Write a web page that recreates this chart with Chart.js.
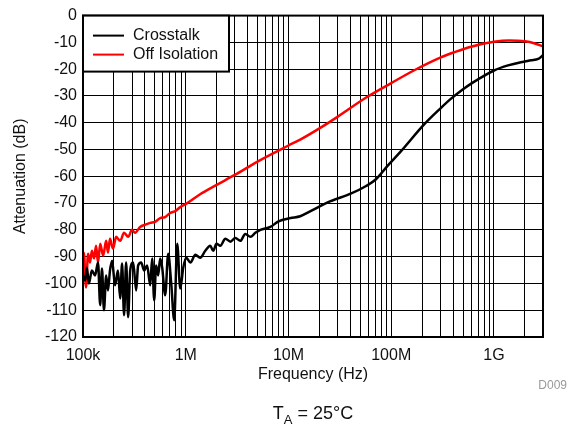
<!DOCTYPE html>
<html>
<head>
<meta charset="utf-8">
<script src="https://cdn.jsdelivr.net/npm/chart.js@4"></script>
<style>
  body { margin: 0; background: #fff; }
  canvas { display: block; }
</style>
</head>
<body>
<canvas id="chart" width="576" height="428"></canvas>
<script>
// Crosstalk (black)
const crosstalkFreq = [
  1.0e5, 1.05e5, 1.09e5, 1.14e5, 1.22e5, 1.31e5, 1.40e5, 1.47e5, 1.53e5, 1.60e5,
  1.68e5, 1.75e5, 1.83e5, 1.92e5, 2.05e5, 2.19e5, 2.30e5, 2.40e5, 2.51e5, 2.63e5,
  2.75e5, 2.88e5, 3.08e5, 3.29e5, 3.44e5, 3.68e5, 3.94e5, 4.21e5, 4.51e5, 4.71e5,
  4.93e5, 5.15e5, 5.39e5, 5.64e5, 5.90e5, 6.31e5, 6.75e5, 7.22e5, 7.72e5, 8.26e5,
  8.84e5, 9.46e5, 1.01e6, 1.11e6, 1.24e6, 1.38e6, 1.55e6, 1.73e6, 1.85e6, 1.99e6,
  2.17e6, 2.43e6, 2.72e6, 3.04e6, 3.40e6, 3.80e6, 4.26e6, 4.76e6, 5.33e6, 6.67e6,
  8.0e6, 1.05e7, 1.3e7, 1.64e7, 2.57e7, 4.03e7, 5.64e7, 7.06e7, 9.25e7, 1.24e8,
  2.08e8, 3.0e8, 3.8e8, 5.0e8, 6.0e8, 7.0e8, 1.0e9, 1.37e9, 1.83e9, 2.3e9,
  2.69e9, 3.0e9
];
const crosstalkDb = [
  -97, -98.9, -94.1, -100, -95.2, -97, -92.2, -108.1, -94.4, -110,
  -97, -102.6, -95.2, -91.5, -100.7, -95.2, -105.6, -92.6, -111.9, -92.2,
  -112.6, -95.2, -92.2, -102.6, -93.3, -92.2, -95.2, -93.3, -100.7, -90.7,
  -106.3, -93.3, -97, -90.7, -94.1, -104.4, -88.9, -100, -113.7, -85.2,
  -101.9, -94.1, -90.4, -92.2, -89.3, -90.4, -87.8, -85.9, -87.8, -85.2,
  -85.9, -83.3, -84.4, -83, -84.1, -81.5, -82.6, -81.1, -80, -78.9,
  -76.8, -75.6, -74.9, -73, -69.3, -66.5, -63.7, -61.2, -56, -50.7,
  -40.7, -34.7, -31.1, -27.5, -25.4, -23.8, -20.5, -18.6, -17.4, -16.7,
  -16.2, -14.8
];

// Off Isolation (red)
const isolationFreq = [
  1.0e5, 1.02e5, 1.07e5, 1.12e5, 1.17e5, 1.22e5, 1.28e5, 1.34e5, 1.40e5, 1.47e5,
  1.57e5, 1.68e5, 1.75e5, 1.83e5, 1.96e5, 2.10e5, 2.30e5, 2.51e5, 2.75e5, 3.0e5,
  3.21e5, 3.6e5, 4.02e5, 4.51e5, 5.04e5, 5.64e5, 6.31e5, 7.06e5, 7.9e5, 8.84e5,
  1.0e6, 1.38e6, 2.0e6, 3.0e6, 5.0e6, 1.0e7, 1.3e7, 2.0e7, 3.0e7, 5.7e7,
  1.0e8, 1.66e8, 3.0e8, 4.1e8, 6.0e8, 1.0e9, 1.4e9, 2.0e9, 2.5e9, 3.0e9
];
const isolationDb = [
  -89, -88.5, -101.5, -88.9, -92.2, -87.8, -90.7, -85.9, -92.2, -85.2,
  -89.6, -84.1, -88.5, -83.3, -87, -82.6, -84.1, -81.1, -82.6, -80,
  -81.1, -78.9, -78.1, -77.4, -77, -75.6, -75.2, -73.7, -73, -71.5,
  -70.4, -66.7, -63.2, -59.5, -54.5, -48.5, -46.3, -42.1, -37.8, -30.6,
  -25.2, -20.5, -15.7, -13.7, -11.6, -9.8, -9.3, -9.6, -10.4, -11.5
];

// x axis labels (decades)
const decadeValues = [1e5, 1e6, 1e7, 1e8, 1e9];
const decadeLabels = ['100k', '1M', '10M', '100M', '1G'];

const FONT = '"Liberation Sans", Arial, Helvetica, sans-serif';
Chart.defaults.font.family = FONT;
Chart.defaults.color = '#111';

function toPoints(xs, ys) {
    return xs.map((x, i) => ({ x: x, y: ys[i] }));
}

// grid at 1..9 x each decade up to 3G
const gridFreqs = [];
decadeValues.forEach(d => {
    for (let m = 1; m <= 9; m++) {
        if (d * m <= 3e9) gridFreqs.push(d * m);
    }
});

// legend box drawn inside the plot + frame + extra texts
const extras = {
    id: 'extras',
    afterDatasetsDraw(chart) {
        const ctx = chart.ctx;
        const ca = chart.chartArea;
        ctx.save();
        // plot frame
        ctx.strokeStyle = '#000';
        ctx.lineWidth = 2;
        ctx.strokeRect(ca.left, ca.top, ca.right - ca.left, ca.bottom - ca.top);

        // legend
        const lx = ca.left, ly = ca.top, lw = 146, lh = 56;
        ctx.fillStyle = '#fff';
        ctx.fillRect(lx, ly, lw, lh);
        ctx.strokeRect(lx, ly, lw, lh);
        const rows = [
            { text: 'Crosstalk', color: '#000', y: ly + 20 },
            { text: 'Off Isolation', color: '#ff0000', y: ly + 39 }
        ];
        ctx.font = '16px ' + FONT;
        ctx.textBaseline = 'middle';
        ctx.textAlign = 'left';
        rows.forEach(r => {
            ctx.strokeStyle = r.color;
            ctx.lineWidth = 2;
            ctx.beginPath();
            ctx.moveTo(lx + 10, r.y);
            ctx.lineTo(lx + 41, r.y);
            ctx.stroke();
            ctx.fillStyle = '#111';
            ctx.fillText(r.text, lx + 50, r.y);
        });

        // D009 tag
        ctx.font = '12px ' + FONT;
        ctx.fillStyle = '#999';
        ctx.textAlign = 'right';
        ctx.textBaseline = 'alphabetic';
        ctx.fillText('D009', 567, 389);

        // T_A = 25°C
        const cx = (ca.left + ca.right) / 2;
        ctx.fillStyle = '#111';
        ctx.font = '18px ' + FONT;
        const wT = ctx.measureText('T').width;
        const wRest = ctx.measureText(' = 25°C').width;
        ctx.font = '13px ' + FONT;
        const wA = ctx.measureText('A').width;
        let x0 = cx - (wT + wA + wRest) / 2;
        ctx.textAlign = 'left';
        ctx.font = '18px ' + FONT;
        ctx.fillText('T', x0, 419);
        ctx.font = '13px ' + FONT;
        ctx.fillText('A', x0 + wT, 424);
        ctx.font = '18px ' + FONT;
        ctx.fillText(' = 25°C', x0 + wT + wA, 419);
        ctx.restore();
    }
};

new Chart(document.getElementById('chart'), {
    type: 'line',
    data: {
        datasets: [{
            label: 'Crosstalk',
            data: toPoints(crosstalkFreq, crosstalkDb),
            borderColor: '#000',
            borderWidth: 2.5,
            pointRadius: 0,
            cubicInterpolationMode: 'monotone'
        }, {
            label: 'Off Isolation',
            data: toPoints(isolationFreq, isolationDb),
            borderColor: '#ff0000',
            borderWidth: 2.5,
            pointRadius: 0,
            cubicInterpolationMode: 'monotone'
        }]
    },
    options: {
        responsive: false,
        animation: false,
        layout: { padding: { top: 13, right: 33, left: 0, bottom: 44 } },
        plugins: {
            legend: { display: false },
            tooltip: { enabled: false }
        },
        scales: {
            x: {
                type: 'logarithmic',
                min: 1e5,
                max: 3e9,
                afterBuildTicks: scale => {
                    scale.ticks = gridFreqs.map(v => ({ value: v }));
                },
                afterFit: scale => { scale.height = 47; },
                grid: { color: '#000', lineWidth: 1, drawTicks: false },
                border: { display: false },
                ticks: {
                    autoSkip: false,
                    maxRotation: 0,
                    padding: 9,
                    font: { size: 16 },
                    callback: value => {
                        const i = decadeValues.findIndex(d => Math.abs(d - value) / d < 1e-6);
                        return i >= 0 ? decadeLabels[i] : '';
                    }
                },
                title: {
                    display: true,
                    text: 'Frequency (Hz)',
                    font: { size: 16 },
                    padding: { top: 0, bottom: 0 }
                }
            },
            y: {
                min: -120,
                max: 0,
                afterFit: scale => { scale.width = 83; },
                grid: { color: '#000', lineWidth: 1, drawTicks: false },
                border: { display: false },
                ticks: {
                    stepSize: 10,
                    padding: 6,
                    font: { size: 16 }
                },
                title: {
                    display: true,
                    text: 'Attenuation (dB)',
                    font: { size: 16 },
                    padding: { top: 11, bottom: 0 }
                }
            }
        }
    },
    plugins: [extras]
});
</script>
</body>
</html>
